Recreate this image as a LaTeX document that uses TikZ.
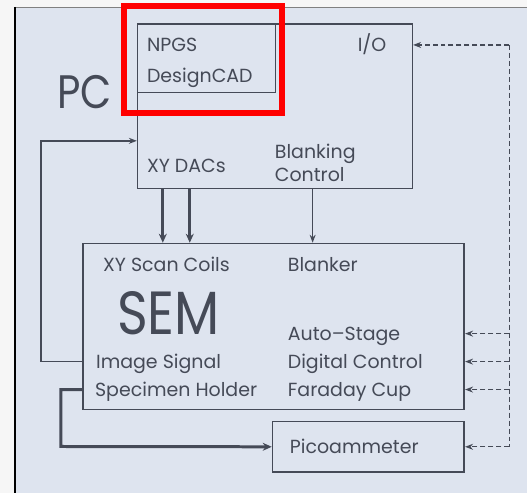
\documentclass[tikz,border=0pt]{standalone}
\usepackage{fontspec}
\setmainfont{Poppins}
\newfontfamily\narrowfont[FakeStretch = 0.86]{Poppins}
\usetikzlibrary{arrows.meta}
\definecolor{panel}{HTML}{DEE4EF}
\definecolor{outside}{HTML}{F6F6F6}
\definecolor{ink}{HTML}{454A57}
\tikzset{
  box/.style = {draw = ink, line width = 1.6pt, anchor = north west, inner sep = 0pt},
  lbl/.style = {anchor = west, inner sep = 0pt, text = ink, font = \fontsize{19}{19}\selectfont,
                text height = 16pt, text depth = 2pt},
  biglbl/.style = {lbl, text depth = 0pt},
  conn/.style = {draw = ink, line width = 1.4pt, -{Stealth[length = 8pt, width = 6pt]}},
  bus/.style = {conn, line width = 3pt, -{Stealth[length = 9pt, width = 8pt]}},
  ctrlline/.style = {draw = ink, line width = 1.2pt, dashed, dash pattern = on 5pt off 3pt}
}
\begin{document}
\begin{tikzpicture}[x = 1pt, y = -1pt]
	% frame
	\fill [outside] (0,0) rectangle (528,494);
	\fill [panel] (14,7) rectangle (528,494);
	\draw [gray, line width = 1.2pt] (14,7.5) -- (528,7.5);
	\draw [black, line width = 2.2pt] (15,7) -- (15,494);
	\useasboundingbox (0,0) rectangle (528,494);

	% boxes
	\node [box, minimum width = 275pt, minimum height = 165pt] (pc) at (137,23) {};
	\node [box, minimum width = 138pt, minimum height = 69pt] (npgs) at (137,23) {};
	\node [box, minimum width = 382pt, minimum height = 166pt] (sem) at (82,243) {};
	\node [box, minimum width = 192pt, minimum height = 51pt] (pico) at (272,421) {};

	% PC texts
	\node [biglbl, text height = 34pt, font = \fontsize{47}{47}\narrowfont] (pclbl) at (57,92) {PC};
	\node [lbl] (npgstxt) at (147,45) {NPGS};
	\node [lbl] (cad) at (147,76) {DesignCAD};
	\node [lbl] (io) at (358,45) {I/O};
	\node [lbl] (dacs) at (147,166) {XY DACs};
	\node [lbl] (blank) at (275,152) {Blanking};
	\node [lbl] (ctrl) at (275,175) {Control};

	% SEM texts
	\node [lbl] (coils) at (103,265) {XY Scan Coils};
	\node [lbl] (blanker) at (288,265) {Blanker};
	\node [biglbl, text height = 43pt, font = \fontsize{61}{61}\narrowfont] (semlbl) at (117,313) {SEM};
	\node [lbl] (stage) at (288,334) {Auto--Stage};
	\node [lbl] (img) at (96,362) {Image Signal};
	\node [lbl] (dig) at (288,362) {Digital Control};
	\node [lbl] (spec) at (95,390) {Specimen Holder};
	\node [lbl] (cup) at (288,390) {Faraday Cup};
	\node [lbl] (picotxt) at (290,447) {Picoammeter};

	% connectors
	\coordinate (dacA) at (163,0);
	\coordinate (dacB) at (190,0);
	\coordinate (blk) at (313,0);
	\coordinate (fb) at (41,141);
	\coordinate (sh) at (61,447);
	\coordinate (bustop) at (510,45);
	\draw [bus] (pc.south -| dacA) -- (sem.north -| dacA);
	\draw [bus] (pc.south -| dacB) -- (sem.north -| dacB);
	\draw [conn] (pc.south -| blk) -- (sem.north -| blk);
	\draw [conn] (sem.west |- img) -| (fb) -- (pc.west |- fb);
	\draw [bus] (sem.west |- spec) -| (sh) -- (pico.west);

	% dashed control lines
	\draw [ctrlline] (bustop) -- (bustop |- pico.east);
	\foreach \t in {stage, dig, cup}
		\draw [ctrlline, -{Stealth[length = 8pt, width = 6pt]}] (bustop |- \t) -- (sem.east |- \t);
	\draw [ctrlline, -{Stealth[length = 8pt, width = 6pt]}] (bustop |- pico.east) -- (pico.east);
	\draw [ctrlline, -{Stealth[length = 8pt, width = 6pt]}] (bustop) -- (pc.east |- bustop);

	% highlight
	\draw [red, line width = 6pt] (124,6.3) rectangle (282,113.5);
\end{tikzpicture}
\end{document}
